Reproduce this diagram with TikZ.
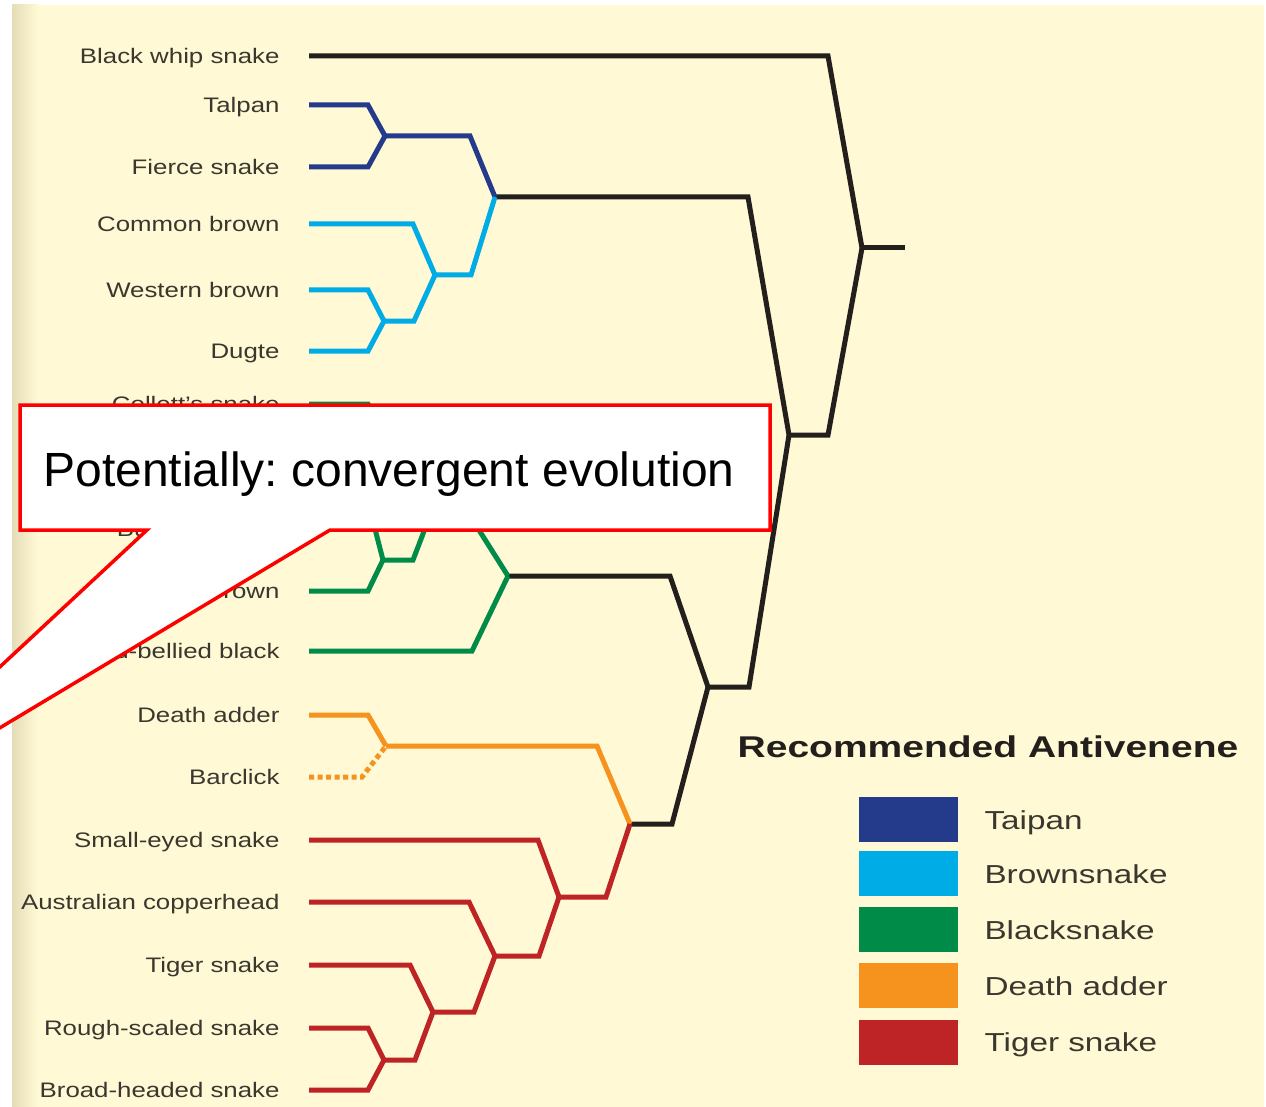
\documentclass[tikz,border=0pt]{standalone}
\usepackage{fontspec}
\setmainfont{Liberation Sans}
\usepackage{graphicx}
\usetikzlibrary{positioning}

\definecolor{cream}{RGB}{255,249,213}
\definecolor{paperedge}{RGB}{228,221,182}
\definecolor{ink}{RGB}{58,55,46}
\definecolor{treeblack}{RGB}{35,31,28}
\definecolor{taipancol}{RGB}{36,58,138}
\definecolor{browncol}{RGB}{0,172,230}
\definecolor{blackcol}{RGB}{0,140,72}
\definecolor{addercol}{RGB}{246,146,30}
\definecolor{tigercol}{RGB}{190,36,38}
\definecolor{noteline}{RGB}{255,0,0}

\newcommand{\wlab}[1]{\scalebox{1.23}[1]{#1}}
\newcommand{\wkey}[1]{\scalebox{1.28}[1]{#1}}
\frenchspacing

\begin{document}
\begin{tikzpicture}[x=1pt,y=-1pt,line width=5pt,
  lbl/.style={anchor=east, inner sep=0pt, text height=15pt, text depth=0pt,
    text=ink, font=\fontsize{21}{25}\selectfont},
  blk/.style={draw=treeblack},
  tai/.style={draw=taipancol},
  bro/.style={draw=browncol},
  bla/.style={draw=blackcol},
  add/.style={draw=addercol},
  tig/.style={draw=tigercol},
  swatch/.style={minimum width=99pt, minimum height=45pt, inner sep=0pt},
  key/.style={anchor=west, inner sep=0pt, text height=19pt, text depth=0pt,
    text=ink, font=\fontsize{26}{30}\selectfont},
  callout/.style={draw=noteline, fill=white, line width=3.5pt}]

  % Paper
  \useasboundingbox (0,0) rectangle (1266,1107);
  \fill[white] (0,0) rectangle (1266,1107);
  \fill[cream] (12,5) rectangle (1264,1107);
  \shade[left color=paperedge, right color=cream] (12,5) rectangle (38,1107);

  % Species
  \node[lbl] (whip) at (282,56) {\wlab{Black whip snake}};
  \node[lbl] (talpan) at (282,105) {\wlab{Talpan}};
  \node[lbl] (fierce) at (282,167) {\wlab{Fierce snake}};
  \node[lbl] (common) at (282,224) {\wlab{Common brown}};
  \node[lbl] (western) at (282,290) {\wlab{Western brown}};
  \node[lbl] (dugte) at (282,351) {\wlab{Dugte}};
  \node[lbl] (collett) at (282,404) {\wlab{Collett's snake}};
  \coordinate (hidden) at (309,465);
  \node[lbl] (butler) at (282,529) {\wlab{Butler's snake}};
  \node[lbl] (king) at (282,591) {\wlab{King brown}};
  \node[lbl] (redbelly) at (282,651) {\wlab{Red-bellied black}};
  \node[lbl] (death) at (282,715) {\wlab{Death adder}};
  \node[lbl] (barclick) at (282,777) {\wlab{Barclick}};
  \node[lbl] (smalleye) at (282,840) {\wlab{Small-eyed snake}};
  \node[lbl] (copper) at (282,902) {\wlab{Australian copperhead}};
  \node[lbl] (tiger) at (282,965) {\wlab{Tiger snake}};
  \node[lbl] (rough) at (282,1028) {\wlab{Rough-scaled snake}};
  \node[lbl] (broad) at (282,1090) {\wlab{Broad-headed snake}};

  % Branch points
  \coordinate (root) at (862,248);
  \coordinate (nB) at (789,435);
  \coordinate (nC) at (495,197);
  \coordinate (nD) at (708,687);
  \coordinate (nT) at (385,136);
  \coordinate (nBr) at (435,275);
  \coordinate (nWd) at (384,321);
  \coordinate (nG) at (508,576);
  \coordinate (nP) at (436,500);
  \coordinate (nQ) at (385,435);
  \coordinate (nA) at (383,560);
  \coordinate (nE) at (630,824);
  \coordinate (nO) at (386,746);
  \coordinate (nR1) at (559,897);
  \coordinate (nR2) at (495,956);
  \coordinate (nR3) at (433,1012);
  \coordinate (nR4) at (384,1060);

  % Black backbone
  \draw[blk] (root) -- ++(43,0);
  \draw[blk] ([xshift=27pt]whip.east) -- ++(519,0) -- (root);
  \draw[blk] (nB) -- ++(39,0) -- (root);
  \draw[blk] (nC) -- ++(253,0) -- (nB);
  \draw[blk] (nD) -- ++(41,0) -- (nB);
  \draw[blk] (nG) -- ++(162,0) -- (nD);
  \draw[blk] (nE) -- ++(42,0) -- (nD);

  % Taipan and brownsnakes
  \draw[tai] (nT) -- ++(85,0) -- (nC);
  \draw[tai] ([xshift=27pt]talpan.east) -- ++(59,0) -- (nT);
  \draw[tai] ([xshift=27pt]fierce.east) -- ++(59,0) -- (nT);
  \draw[bro] (nBr) -- ++(36,0) -- (nC);
  \draw[bro] ([xshift=27pt]common.east) -- ++(104,0) -- (nBr);
  \draw[bro] (nWd) -- ++(30,0) -- (nBr);
  \draw[bro] ([xshift=27pt]western.east) -- ++(59,0) -- (nWd);
  \draw[bro] ([xshift=27pt]dugte.east) -- ++(59,0) -- (nWd);

  % Blacksnakes
  \draw[bla] ([xshift=27pt]redbelly.east) -- ++(163,0) -- (nG);
  \draw[bla] (nP) -- ++(24,0) -- (nG);
  \draw[bla] (nQ) -- ++(28,0) -- (nP);
  \draw[bla] ([xshift=27pt]collett.east) -- ++(59,0) -- (nQ);
  \draw[bla] (hidden) -- ++(59,0) -- (nQ);
  \draw[bla] (nA) -- ++(30,0) -- (nP);
  \draw[bla] ([xshift=27pt]butler.east) -- ++(66,0) -- (nA);
  \draw[bla] ([xshift=27pt]king.east) -- ++(59,0) -- (nA);

  % Death adders
  \draw[add] (nO) -- ++(211,0) -- (nE);
  \draw[add] ([xshift=27pt]death.east) -- ++(59,0) -- (nO);
  \draw[add, dash pattern=on 5pt off 3.5pt] ([xshift=27pt]barclick.east) -- ++(53,0) -- (nO);

  % Tiger snakes
  \draw[tig] (nR1) -- ++(47,0) -- (nE);
  \draw[tig] ([xshift=27pt]smalleye.east) -- ++(229,0) -- (nR1);
  \draw[tig] (nR2) -- ++(44,0) -- (nR1);
  \draw[tig] ([xshift=27pt]copper.east) -- ++(160,0) -- (nR2);
  \draw[tig] (nR3) -- ++(41,0) -- (nR2);
  \draw[tig] ([xshift=27pt]tiger.east) -- ++(101,0) -- (nR3);
  \draw[tig] (nR4) -- ++(31,0) -- (nR3);
  \draw[tig] ([xshift=27pt]rough.east) -- ++(59,0) -- (nR4);
  \draw[tig] ([xshift=27pt]broad.east) -- ++(59,0) -- (nR4);

  % Legend
  \node[inner sep=0pt, text height=22pt, text depth=0pt, text=treeblack,
    font=\fontsize{30}{34}\selectfont\bfseries] (head) at (988,746)
    {\scalebox{1.3}[1]{Recommended Antivenene}};
  \node[swatch, fill=taipancol] (kTai) at (908,819.5) {};
  \node[swatch, fill=browncol] (kBro) at (908,873.5) {};
  \node[swatch, fill=blackcol] (kBla) at (908,929.5) {};
  \node[swatch, fill=addercol] (kAdd) at (908,985.5) {};
  \node[swatch, fill=tigercol] (kTig) at (908,1042) {};
  \node[key, right=22pt of kTai] {\wkey{Taipan}};
  \node[key, right=22pt of kBro] {\wkey{Brownsnake}};
  \node[key, right=22pt of kBla] {\wkey{Blacksnake}};
  \node[key, right=22pt of kAdd] {\wkey{Death adder}};
  \node[key, right=22pt of kTig] {\wkey{Tiger snake}};

  % Callout
  \begin{scope}
    \clip (0,0) rectangle (1266,1107);
    \draw[callout] (20,405) -- (770,405) -- (770,530) -- (330,530)
      -- (-184,838) -- (147,530) -- (20,530) -- cycle;
  \end{scope}
  \node[anchor=base west, inner sep=0pt, font=\fontsize{48}{55}\selectfont]
    (note) at (41,486) {Potentially: convergent evolution};
\end{tikzpicture}
\end{document}
